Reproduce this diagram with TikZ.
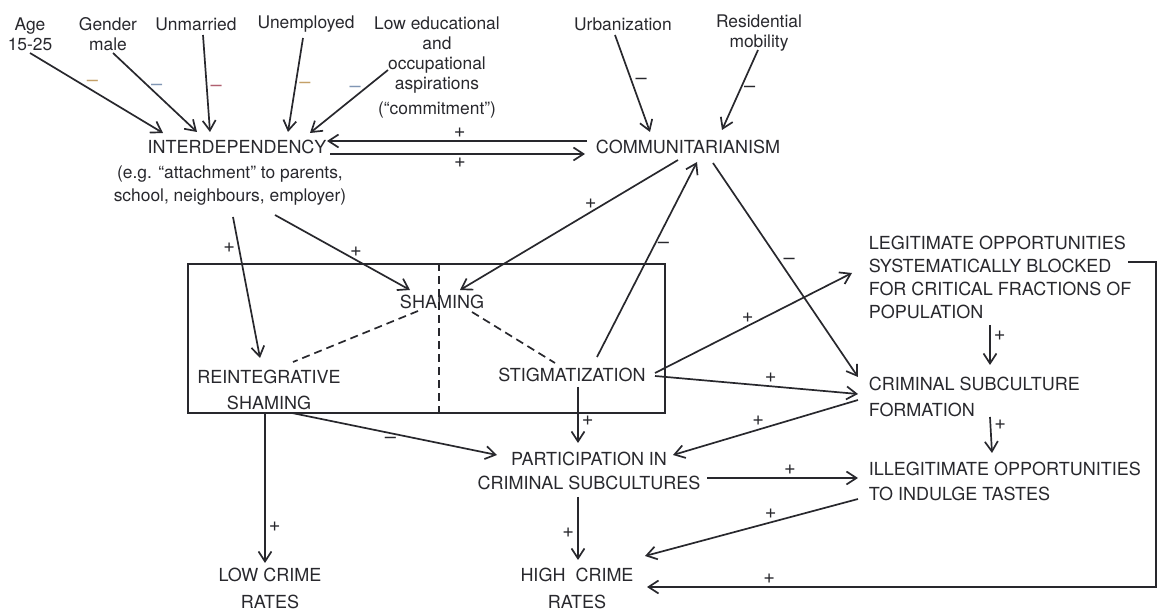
\documentclass[tikz,border=0pt]{standalone}
\usepackage{fontspec}
\setmainfont{TeX Gyre Heros}
\usetikzlibrary{arrows.meta, calc}

\definecolor{ink}{RGB}{40,40,45}
\definecolor{signtan}{RGB}{196,160,104}
\definecolor{signred}{RGB}{176,96,112}
\definecolor{signblue}{RGB}{128,150,180}

\begin{document}
\begin{tikzpicture}[x=0.5pt, y=-0.5pt, color=ink, line width=0.85pt,
    >={Straight Barb[length=5pt,width=6.5pt]},
    cause/.style={font=\fontsize{8.7}{10}\selectfont, align=center, inner sep=1pt},
    caps/.style={font=\fontsize{9}{#1}\selectfont, align=center, inner sep=1pt},
    caps/.default=13pt,
    capsleft/.style={caps=#1, align=left, anchor=west},
    signlabel/.style={font=\fontsize{10}{10}\selectfont, inner sep=1.5pt},
    dashlink/.style={dash pattern=on 4pt off 2.5pt}]
\useasboundingbox (0,0) rectangle (1164,614);

% causes at the top
\node [cause] (age) at (30,34) {Age\\15-25};
\node [cause] (gender) at (108,34) {Gender\\male};
\node [cause] (unmarried) at (196,24) {Unmarried};
\node [cause] (unemployed) at (306,24) {Unemployed};
\node [cause] (aspiration) at (437,68) {Low educational\\and\\occupational\\aspirations\\[2.5pt](``commitment'')};
\node [cause] (urban) at (623,24) {Urbanization};
\node [cause] (mobility) at (759,33) {Residential\\mobility};

% middle row
\node [caps] (interdep) at (237,147) {INTERDEPENDENCY};
\node [cause, font=\fontsize{8.7}{11.5}\selectfont] (interdepnote) at (230,186) {(e.g. ``attachment'' to parents,\\school, neighbours, employer)};
\node [caps] (comm) at (688,147) {COMMUNITARIANISM};

% shaming box
\node [draw, minimum width=238.5pt, minimum height=74.5pt, inner sep=0pt] (shamebox) at (426.5,338.5) {};
\node [caps] (shaming) at (442,302) {SHAMING};
\node [caps] (reint) at (269,390) {REINTEGRATIVE\\SHAMING};
\node [caps] (stigma) at (572,375) {STIGMATIZATION};

% outcomes
\node [caps=12pt] (part) at (589,471) {PARTICIPATION IN\\CRIMINAL SUBCULTURES};
\node [caps=13.5pt] (low) at (270,588) {LOW CRIME\\RATES};
\node [caps=13.5pt] (high) at (577,588) {HIGH\ \ CRIME\\RATES};
\node [capsleft=11.5pt] (legit) at (866,277.5) {LEGITIMATE OPPORTUNITIES\\SYSTEMATICALLY BLOCKED\\FOR CRITICAL FRACTIONS OF\\POPULATION};
\node [capsleft=13pt] (crim) at (866,397) {CRIMINAL SUBCULTURE\\FORMATION};
\node [capsleft=12.5pt] (illeg) at (866,481) {ILLEGITIMATE OPPORTUNITIES\\TO INDULGE TASTES};

\path[->]
    ($(age)+(0,19)$) edge node [signlabel, pos=.47, above, text=signtan] {\textendash} ($(interdep)+(-74,-14)$)
    ($(gender)+(5,19)$) edge node [signlabel, pos=.52, above, text=signblue] {\textendash} ($(interdep)+(-40,-15)$)
    ($(unmarried)+(7,11)$) edge node [signlabel, pos=.55, right, text=signred] {\textendash} ($(interdep)+(-27,-15)$)
    ($(unemployed)+(-3,14)$) edge node [signlabel, pos=.5, right, text=signtan] {\textendash} ($(interdep)+(51,-15)$)
    ($(aspiration)+(-49,2)$) edge node [signlabel, pos=.42, above, text=signblue] {\textendash} ($(interdep)+(73,-14)$)
    ($(urban)+(-8,11)$) edge node [signlabel, pos=.48, right] {\textendash} ($(comm)+(-38,-15)$)
    ($(mobility)+(-1,17)$) edge node [signlabel, pos=.49, right] {\textendash} ($(comm)+(34,-17)$)
    ($(comm)+(-101,-6)$) edge node [signlabel, pos=.49, above] {+} ($(interdep)+(90,-6)$)
    ($(interdep)+(93,7)$) edge node [signlabel, pos=.51, below] {+} ($(comm)+(-103,7)$)
    ($(interdepnote)+(3,31)$) edge node [signlabel, pos=.22, left] {+} ($(reint)+(-9,-32)$)
    ($(interdepnote)+(45,29)$) edge node [signlabel, pos=.6, above] {+} ($(shaming)+(-32,-12)$)
    ($(comm)+(-10,13)$) edge node [signlabel, pos=.4, above] {+} ($(shaming)+(18,-12)$)
    ($(stigma)+(25,-18)$) edge node [signlabel, pos=.57, right] {\textendash} ($(comm)+(9,15)$)
    ($(comm)+(25,16)$) edge node [signlabel, pos=.46, right] {\textendash} ($(crim.west)+(-8,-20)$)
    ($(stigma)+(83,-2)$) edge node [signlabel, pos=.47, above] {+} ($(legit.west)+(-14,-4.5)$)
    ($(stigma)+(83,1)$) edge node [signlabel, pos=.57, above] {+} ($(crim.west)+(-8,-3)$)
    ($(stigma)+(6,12)$) edge node [signlabel, pos=.6, right] {+} ($(part)+(-11,-28)$)
    ($(reint)+(23,23)$) edge node [signlabel, pos=.48, below] {\textendash} ($(part)+(-92,-16)$)
    ($(crim.west)+(-8,3)$) edge node [signlabel, pos=.54, above] {+} ($(part)+(84,-16)$)
    ($(part)+(118,7)$) edge node [signlabel, pos=.55, above] {+} ($(illeg.west)+(-8,-3)$)
    ($(illeg.west)+(-8,18)$) edge node [signlabel, pos=.41, above] {+} ($(high)+(68,-32)$)
    ($(part)+(-11,26)$) edge node [signlabel, pos=.57, left] {+} ($(high)+(1,-28)$)
    ($(reint)+(-4,23)$) edge node [signlabel, pos=.76, right] {+} ($(low)+(-5,-25)$)
    ($(legit.west)+(124,47.5)$) edge node [signlabel, pos=.28, right] {+} ($(crim.west)+(124,-32)$)
    ($(crim.west)+(124,20)$) edge node [signlabel, pos=.22, right] {+} ($(illeg.west)+(126,-28)$);
\draw[->] ($(legit.west)+(262,-15.5)$) -- ++(28,0) |- node [signlabel, pos=.88, above] {+} ($(high)+(70,-1)$);

% dashed split of shaming
\draw[dashlink] ($(shaming)+(-24,9)$) -- ($(reint)+(24,-28)$);
\draw[dashlink] ($(shaming)+(30,10)$) -- ($(stigma)+(-17,-12)$);
\draw[dashlink] ($(shamebox.north)+(12.5,0)$) -- ($(shamebox.south)+(12.5,0)$);
\end{tikzpicture}
\end{document}
